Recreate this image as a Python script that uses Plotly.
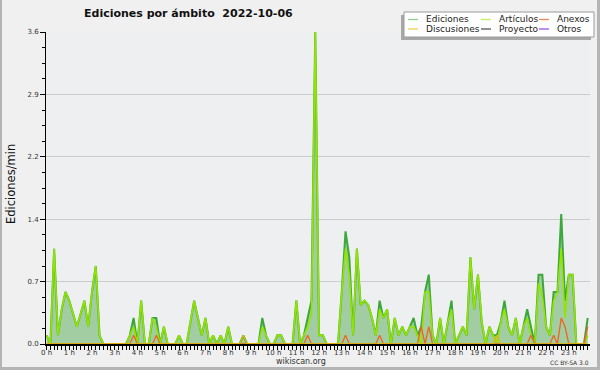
import plotly.graph_objects as go

# 10-minute slots over the day (0 = 00:00, 143 = 23:50)
slots = list(range(144))
hour_ticks = list(range(0, 144, 6))
hour_labels = [f"{h} h" for h in range(24)]

y_ticks = [0, 0.72, 1.44, 2.16, 2.88, 3.6]
y_labels = ["0.0", "0.7", "1.4", "2.2", "2.9", "3.6"]

ediciones = [
    0.1, 0, 1.1, 0.1, 0.4, 0.6, 0.5, 0.35, 0.2, 0.35, 0.5, 0.2,
    0.6, 0.9, 0.1, 0, 0, 0, 0, 0, 0, 0, 0.1, 0.3,
    0, 0.5, 0, 0, 0.3, 0.3, 0, 0.2, 0, 0, 0, 0.1,
    0, 0, 0.25, 0.5, 0.3, 0.1, 0.3, 0, 0.1, 0, 0.1, 0,
    0.2, 0, 0, 0, 0.1, 0, 0, 0, 0, 0.3, 0.1, 0,
    0, 0.1, 0.1, 0, 0, 0, 0.5, 0, 0.1, 0.3, 0.5, 3.6,
    0.1, 0.1, 0, 0, 0, 0, 0.6, 1.3, 1.0, 0.1, 1.1, 0.45,
    0.5, 0.45, 0.3, 0.1, 0.5, 0.3, 0.4, 0, 0.3, 0.1, 0.2, 0.1,
    0.2, 0.3, 0.1, 0.2, 0.6, 0.8, 0.1, 0, 0.3, 0, 0.25, 0.5,
    0, 0.1, 0.2, 0.1, 1.0, 0.4, 0.8, 0.25, 0, 0.2, 0.1, 0.1,
    0.25, 0.5, 0.2, 0.1, 0.3, 0, 0.2, 0.4, 0.2, 0, 0.8, 0.8,
    0.2, 0.1, 0.6, 0.6, 1.5, 0.5, 0.8, 0.8, 0, 0, 0, 0.3,
]

articulos = [
    0.1, 0, 1.1, 0.1, 0.4, 0.6, 0.5, 0.35, 0.2, 0.35, 0.5, 0.2,
    0.6, 0.9, 0.1, 0, 0, 0, 0, 0, 0, 0, 0.1, 0.2,
    0, 0.5, 0, 0, 0.3, 0.2, 0, 0.2, 0, 0, 0, 0.1,
    0, 0, 0.25, 0.5, 0.3, 0.1, 0.3, 0, 0.1, 0, 0.1, 0,
    0.2, 0, 0, 0, 0, 0, 0, 0, 0, 0.2, 0.1, 0,
    0, 0.1, 0.1, 0, 0, 0, 0.5, 0, 0.1, 0.2, 0.35, 3.6,
    0.1, 0.1, 0, 0, 0, 0, 0.6, 1.1, 0.8, 0.1, 1.1, 0.45,
    0.5, 0.45, 0.3, 0.1, 0.4, 0.3, 0.4, 0, 0.3, 0.1, 0.2, 0.1,
    0.2, 0.2, 0.1, 0, 0.6, 0.6, 0.1, 0, 0.3, 0, 0.25, 0.4,
    0, 0.1, 0.2, 0.1, 1.0, 0.4, 0.8, 0.25, 0, 0.2, 0.1, 0,
    0.25, 0.4, 0.2, 0.1, 0.3, 0, 0.2, 0.3, 0.1, 0, 0.7, 0.55,
    0.2, 0.1, 0.5, 0.6, 1.1, 0.3, 0.8, 0.8, 0, 0, 0, 0.1,
]

anexos = [
    0, 0, 0, 0, 0, 0, 0, 0, 0, 0, 0, 0,
    0, 0, 0, 0, 0, 0, 0, 0, 0, 0, 0, 0.1,
    0, 0, 0, 0, 0, 0.1, 0, 0, 0, 0, 0, 0,
    0, 0, 0, 0, 0, 0, 0, 0, 0, 0, 0, 0,
    0, 0, 0, 0, 0, 0, 0, 0, 0, 0, 0, 0,
    0, 0, 0, 0, 0, 0, 0, 0, 0, 0.1, 0, 0,
    0, 0, 0, 0, 0, 0, 0, 0.1, 0, 0, 0, 0,
    0, 0, 0, 0, 0.1, 0, 0, 0, 0, 0, 0, 0,
    0, 0, 0, 0.2, 0, 0.2, 0, 0, 0, 0, 0, 0,
    0, 0, 0, 0, 0, 0, 0, 0, 0, 0, 0, 0,
    0, 0, 0, 0, 0, 0, 0, 0, 0.1, 0, 0, 0,
    0, 0, 0.1, 0, 0.3, 0.2, 0, 0, 0, 0, 0, 0.2,
]

discusiones = [
    0, 0, 0, 0, 0, 0, 0, 0, 0, 0, 0, 0,
    0, 0, 0, 0, 0, 0, 0, 0, 0, 0, 0, 0,
    0, 0, 0, 0, 0, 0, 0, 0, 0, 0, 0, 0,
    0, 0, 0, 0, 0, 0, 0, 0, 0, 0, 0, 0,
    0, 0, 0, 0, 0.1, 0, 0, 0, 0, 0, 0, 0,
    0, 0, 0, 0, 0, 0, 0, 0, 0, 0, 0, 0,
    0, 0, 0, 0, 0, 0, 0, 0, 0, 0, 0, 0,
    0, 0, 0, 0, 0, 0, 0, 0, 0, 0, 0, 0,
    0, 0, 0, 0, 0, 0, 0, 0, 0, 0, 0, 0,
    0, 0, 0, 0, 0, 0, 0, 0, 0, 0, 0, 0.1,
    0, 0, 0, 0, 0, 0, 0, 0, 0, 0, 0, 0,
    0, 0, 0, 0, 0, 0, 0, 0, 0, 0, 0, 0,
]

legend_names = ["Ediciones", "Artículos", "Anexos", "Discusiones", "Proyecto", "Otros"]
legend_colors = ["#8fd08f", "#c8ec5a", "#f08a50", "#f0d050", "#555555", "#9955ee"]

FONT = "DejaVu Sans"
W, H = 600, 370
L, R, T, B = 46, 590, 32, 344


def px(x):
    return (x - L) / (R - L)


def py(y):
    return (B - y) / (B - T)


fig = go.Figure()
fig.add_trace(go.Scatter(x=slots, y=ediciones, mode="lines", fill="tozeroy",
                         fillcolor="#a2cda2", line=dict(color="#3aa83a", width=2),
                         name="Ediciones", hoverinfo="skip"))
fig.add_trace(go.Scatter(x=slots, y=articulos, mode="lines",
                         line=dict(color="#94e400", width=1.6),
                         name="Artículos", hoverinfo="skip"))
fig.add_trace(go.Scatter(x=slots, y=anexos, mode="lines",
                         line=dict(color="#ee6420", width=1.3),
                         name="Anexos", hoverinfo="skip"))
fig.add_trace(go.Scatter(x=slots, y=discusiones, mode="lines",
                         line=dict(color="#e0b800", width=1.3),
                         name="Discusiones", hoverinfo="skip"))

shapes = []
annotations = []

# outer frame
frame_col = "#b4b4b4"
shapes.append(dict(type="rect", xref="paper", yref="paper", x0=px(0), x1=px(2),
                   y0=py(370), y1=py(0), fillcolor=frame_col, line=dict(width=0), layer="above"))
shapes.append(dict(type="rect", xref="paper", yref="paper", x0=px(597), x1=px(600),
                   y0=py(370), y1=py(0), fillcolor=frame_col, line=dict(width=0), layer="above"))
shapes.append(dict(type="rect", xref="paper", yref="paper", x0=px(0), x1=px(600),
                   y0=py(370), y1=py(367), fillcolor=frame_col, line=dict(width=0), layer="above"))

# legend box with shadow
shapes.append(dict(type="rect", xref="paper", yref="paper", x0=px(401), x1=px(591),
                   y0=py(40), y1=py(15), fillcolor="#a8a8a8", line=dict(width=0), layer="above"))
shapes.append(dict(type="rect", xref="paper", yref="paper", x0=px(404), x1=px(594),
                   y0=py(37), y1=py(12), fillcolor="#ffffff", line=dict(color="#9a9a9a", width=1),
                   layer="above"))

col_x = [408, 481, 539]
row_y = [19.5, 29]
for i, (name, col) in enumerate(zip(legend_names, legend_colors)):
    cx = col_x[i % 3]
    ry = row_y[i // 3]
    shapes.append(dict(type="line", xref="paper", yref="paper", x0=px(cx), x1=px(cx + 10),
                       y0=py(ry), y1=py(ry), line=dict(color=col, width=1.3), layer="above"))
    annotations.append(dict(text=name, xref="paper", yref="paper", x=px(cx + 16), y=py(ry),
                            xanchor="left", yanchor="middle", showarrow=False,
                            font=dict(family=FONT, size=9, color="#222222")))

# title
annotations.append(dict(text="<b>Ediciones por ámbito\u00a0\u00a02022-10-06</b>", xref="paper", yref="paper",
                        x=px(188), y=py(13.5), xanchor="center", yanchor="middle", showarrow=False,
                        font=dict(family=FONT, size=11, color="#111111")))
# y title
annotations.append(dict(text="Ediciones/min", xref="paper", yref="paper", x=px(11), y=py(184),
                        xanchor="center", yanchor="middle", textangle=-90, showarrow=False,
                        font=dict(family=FONT, size=11.5, color="#111111")))
# footer
annotations.append(dict(text="wikiscan.org", xref="paper", yref="paper", x=px(301), y=py(361.5),
                        xanchor="center", yanchor="middle", showarrow=False,
                        font=dict(family=FONT, size=8, color="#333333")))
annotations.append(dict(text="CC BY-SA 3.0", xref="paper", yref="paper", x=px(569), y=py(362.5),
                        xanchor="center", yanchor="middle", showarrow=False,
                        font=dict(family=FONT, size=6, color="#333333")))

fig.update_layout(
    width=W, height=H,
    margin=dict(l=L, r=W - R, t=T, b=H - B, pad=0),
    paper_bgcolor="#f0f0f0", plot_bgcolor="#eeeff1",
    showlegend=False,
    shapes=shapes, annotations=annotations,
    xaxis=dict(range=[-0.15, 143.6], tickmode="array", tickvals=hour_ticks, ticktext=hour_labels,
               ticks="outside", ticklen=4, tickwidth=1, tickcolor="#000000",
               showline=True, linecolor="#000000", linewidth=2, showgrid=False, zeroline=False,
               ticklabelstandoff=-3,
               tickfont=dict(family=FONT, size=7, color="#333333"),
               minor=dict(dtick=1, tick0=0, ticks="outside", ticklen=4, tickcolor="#000000",
                          tickwidth=1, showgrid=False)),
    yaxis=dict(range=[0, 3.6], tickmode="array", tickvals=y_ticks, ticktext=y_labels,
               ticks="outside", ticklen=5, tickwidth=1, tickcolor="#000000",
               showline=True, linecolor="#000000", linewidth=1,
               showgrid=True, gridcolor="#cccccc", gridwidth=1, zeroline=False,
               tickfont=dict(family=FONT, size=7, color="#333333"),
               minor=dict(dtick=0.18, tick0=0, ticks="outside", ticklen=3, tickcolor="#000000",
                          tickwidth=1, showgrid=False)),
)

fig.write_html("out.html", config={"displayModeBar": False, "staticPlot": True},
               post_script="document.body.style.margin='0px';document.body.style.overflow='hidden';")
